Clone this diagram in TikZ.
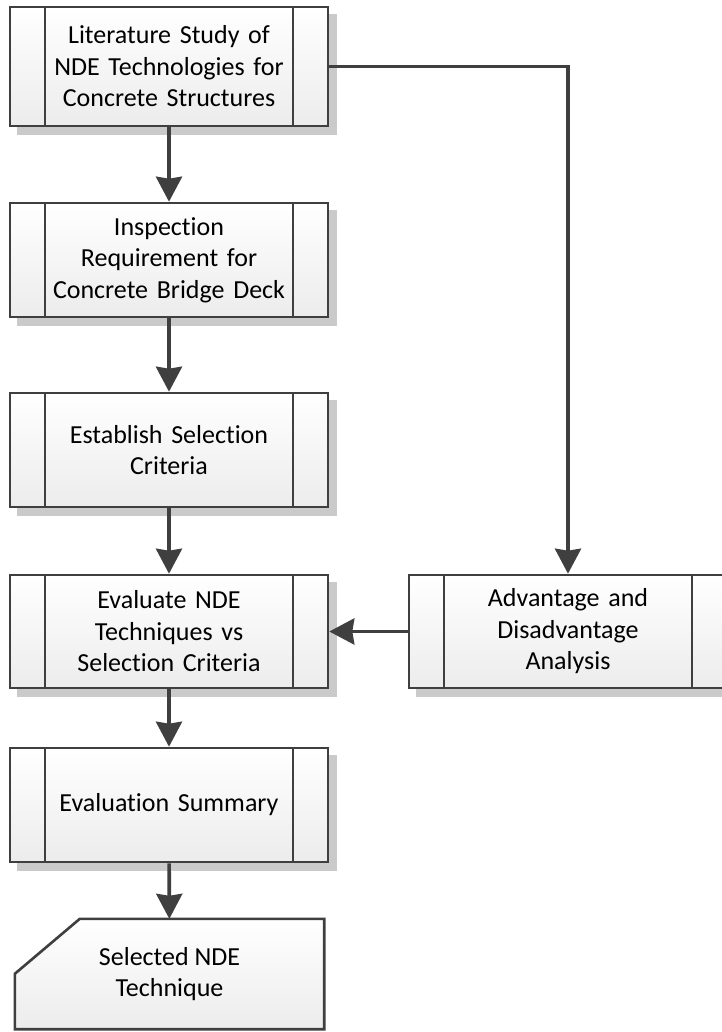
\documentclass[tikz,border=0pt]{standalone}
\usepackage{fontspec}
\setmainfont{Carlito}[Ligatures={NoCommon}]
\usetikzlibrary{arrows.meta,calc,backgrounds}
\definecolor{ink}{HTML}{3F3F3F}
\definecolor{shadowgray}{HTML}{CACACA}
\definecolor{fillbottom}{HTML}{ECECEC}
\tikzset{
  labeltext/.style={font=\fontsize{26}{31.5}\selectfont, align=center},
  process/.style={labeltext, draw=ink, line width=2.6pt,
    top color=white, bottom color=fillbottom,
    minimum width=318pt, minimum height=114pt, inner sep=0pt, text width=250pt,
    path picture={
      \draw[ink,line width=2.4pt]
        ([xshift=35pt]path picture bounding box.north west) --
        ([xshift=35pt]path picture bounding box.south west)
        ([xshift=-35pt]path picture bounding box.north east) --
        ([xshift=-35pt]path picture bounding box.south east);}},
  flow/.style={draw=ink, line width=3.6pt,
    -{Stealth[length=25pt,width=26pt,inset=2pt]}},
}
\begin{document}
\begin{tikzpicture}[x=1pt,y=-1pt]
\useasboundingbox (0,0) rectangle (721,1032);

% predefined-process steps
\node[process, minimum height=119pt] (lit) at (169,66.5)
  {Literature Study of\\NDE Technologies for\\Concrete Structures};
\node[process] (insp) at (169,260)
  {Inspection\\Requirement for\\Concrete Bridge Deck};
\node[process] (crit) at (169,450)
  {Establish Selection\\Criteria};
\node[process, minimum height=113pt] (eval) at (169,631.5)
  {Evaluate NDE\\Techniques vs\\Selection Criteria};
\node[process] (summ) at (169,805)
  {Evaluation Summary};
\node[process, minimum height=113pt] (adv) at (568,631.5)
  {Advantage and\\Disadvantage\\Analysis};

% final result card
\node[labeltext, minimum width=309pt, minimum height=110pt, inner sep=0pt] (sel)
  at (169.5,974) {Selected NDE\\Technique};

\begin{scope}[on background layer]
  \foreach \n in {lit,insp,crit,eval,summ,adv}
    \fill[shadowgray] ([shift={(8,8)}]\n.north west) rectangle ([shift={(8,8)}]\n.south east);
  \fill[shadowgray, shift={(8,8)}]
    ($(sel.north west)+(65,0)$) -- (sel.north east) -- (sel.south east) --
    (sel.south west) -- ($(sel.north west)+(0,55)$) -- cycle;
  \path[draw=ink, line width=2.6pt, top color=white, bottom color=fillbottom]
    ($(sel.north west)+(65,0)$) -- (sel.north east) -- (sel.south east) --
    (sel.south west) -- ($(sel.north west)+(0,55)$) -- cycle;
\end{scope}

% connectors
\draw[flow] (lit) -- (insp);
\draw[flow] (insp) -- (crit);
\draw[flow] (crit) -- (eval);
\draw[flow] (eval) -- (summ);
\draw[flow] (summ) -- (sel);
\draw[flow] (lit.east) -| (adv.north);
\draw[flow] (adv) -- (eval);
\end{tikzpicture}
\end{document}
